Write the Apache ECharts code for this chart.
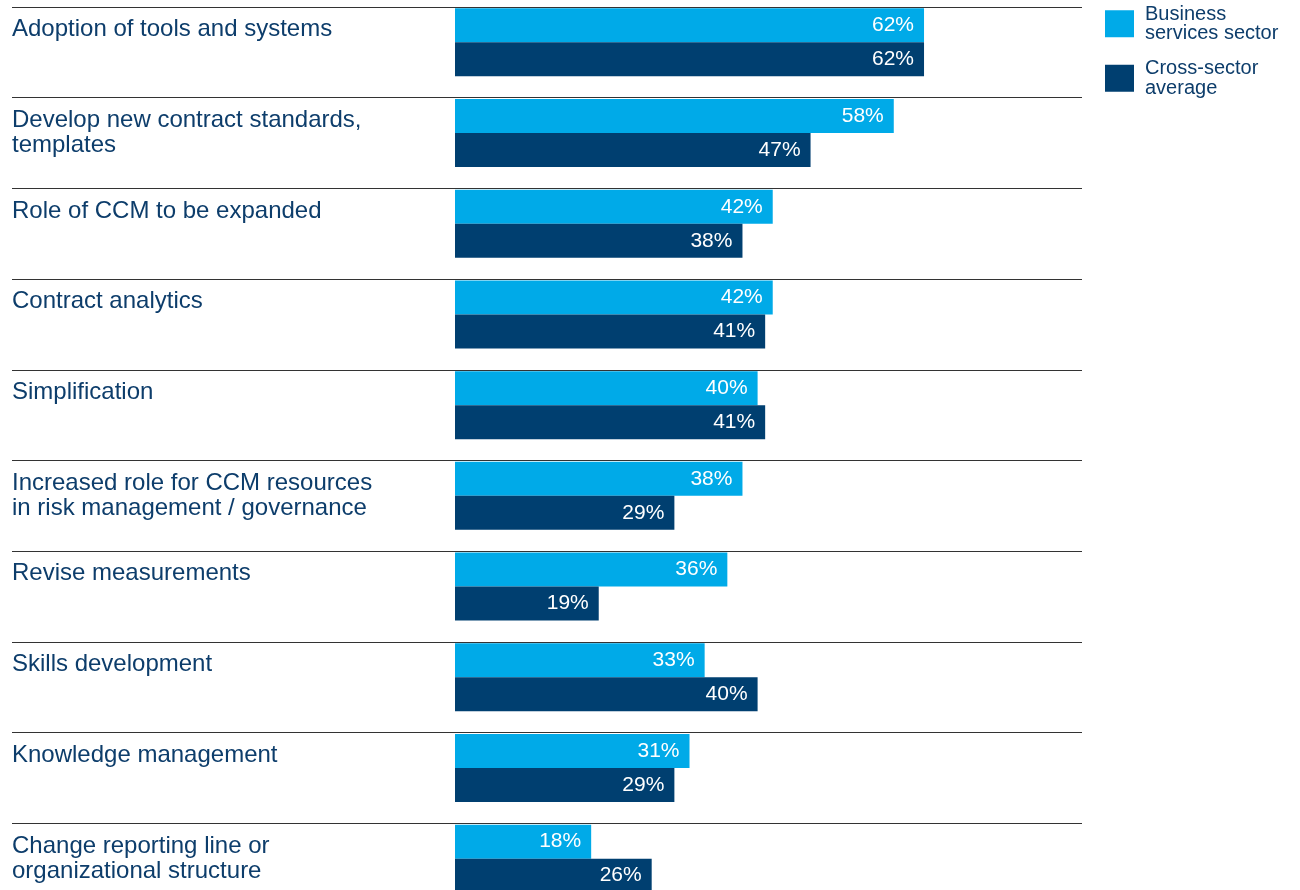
<!DOCTYPE html>
<html>
<head>
<meta charset="utf-8">
<script src="https://cdn.jsdelivr.net/npm/echarts@6/dist/echarts.min.js"></script>
<style>
  html, body { margin: 0; padding: 0; background: #ffffff; }
  #chart { width: 1300px; height: 890px; }
</style>
</head>
<body>
<div id="chart"></div>
<script>
const categories = [
  "Adoption of tools and systems",
  "Develop new contract standards,\ntemplates",
  "Role of CCM to be expanded",
  "Contract analytics",
  "Simplification",
  "Increased role for CCM resources\nin risk management / governance",
  "Revise measurements",
  "Skills development",
  "Knowledge management",
  "Change reporting line or\norganizational structure"
];
const businessServices = [62, 58, 42, 42, 40, 38, 36, 33, 31, 18];
const crossSectorAverage = [62, 47, 38, 41, 41, 29, 19, 40, 29, 26];
const seriesNames = ["Business\nservices sector", "Cross-sector\naverage"];

const FONT = "'Liberation Sans', Arial, Helvetica, sans-serif";
const TEXT_COLOR = "#0d3d6b";
const LIGHT = "#00aae8";
const DARK = "#003f70";

const chart = echarts.init(document.getElementById('chart'), null, { renderer: 'canvas' });

const rowBand = 90.7;
const gridHeight = rowBand * categories.length;

const option = {
  backgroundColor: '#ffffff',
  animation: false,
  textStyle: { fontFamily: FONT },
  legend: {
    orient: 'vertical',
    left: 1105,
    top: 4,
    padding: 0,
    itemWidth: 29,
    itemHeight: 27,
    itemGap: 15,
    icon: 'rect',
    selectedMode: false,
    data: seriesNames,
    textStyle: {
      fontFamily: FONT,
      fontSize: 20,
      lineHeight: 19.5,
      color: TEXT_COLOR,
      padding: [0, 0, 0, 6]
    }
  },
  grid: [
    { left: 12, width: 1070, top: 7, height: gridHeight, containLabel: false, outerBoundsMode: 'none' },
    { left: 455, width: 756.5, top: -3.0, height: gridHeight, containLabel: false, outerBoundsMode: 'none' }
  ],
  xAxis: [
    { gridIndex: 0, type: 'value', min: 0, max: 100, show: false },
    { gridIndex: 1, type: 'value', min: 0, max: 100, show: false }
  ],
  yAxis: [
    {
      gridIndex: 0,
      type: 'category',
      inverse: true,
      data: categories,
      axisLine: { show: false },
      axisTick: { show: false },
      splitLine: { show: true, interval: 0, lineStyle: { color: '#333333', width: 1.2 } },
      axisLabel: {
        inside: true,
        interval: 0,
        margin: 0,
        align: 'left',
        verticalAlign: 'middle',
        fontFamily: FONT,
        fontSize: 24,
        color: TEXT_COLOR,
        formatter: function (v) {
          const lines = v.split('\n');
          while (lines.length < 2) lines.push(' ');
          return lines.map(function (l) { return '{t|' + l + '}'; }).join('\n') + '\n{s| }';
        },
        rich: {
          t: { fontFamily: FONT, fontSize: 24, lineHeight: 25.3, color: TEXT_COLOR },
          s: { fontFamily: FONT, fontSize: 4, lineHeight: 20.2, color: TEXT_COLOR }
        }
      }
    },
    {
      gridIndex: 1,
      type: 'category',
      inverse: true,
      data: categories,
      show: false
    }
  ],
  series: [
    {
      name: seriesNames[0],
      type: 'bar',
      xAxisIndex: 1,
      yAxisIndex: 1,
      data: businessServices,
      barWidth: 34,
      barGap: '0%',
      itemStyle: { color: LIGHT },
      label: {
        show: true,
        position: 'insideRight',
        distance: 10,
        color: '#ffffff',
        fontFamily: FONT,
        fontSize: 21,
        formatter: '{c}%'
      }
    },
    {
      name: seriesNames[1],
      type: 'bar',
      xAxisIndex: 1,
      yAxisIndex: 1,
      data: crossSectorAverage,
      barWidth: 34,
      barGap: '0%',
      itemStyle: { color: DARK },
      label: {
        show: true,
        position: 'insideRight',
        distance: 10,
        color: '#ffffff',
        fontFamily: FONT,
        fontSize: 21,
        formatter: '{c}%'
      }
    }
  ]
};

chart.setOption(option);
</script>
</body>
</html>
